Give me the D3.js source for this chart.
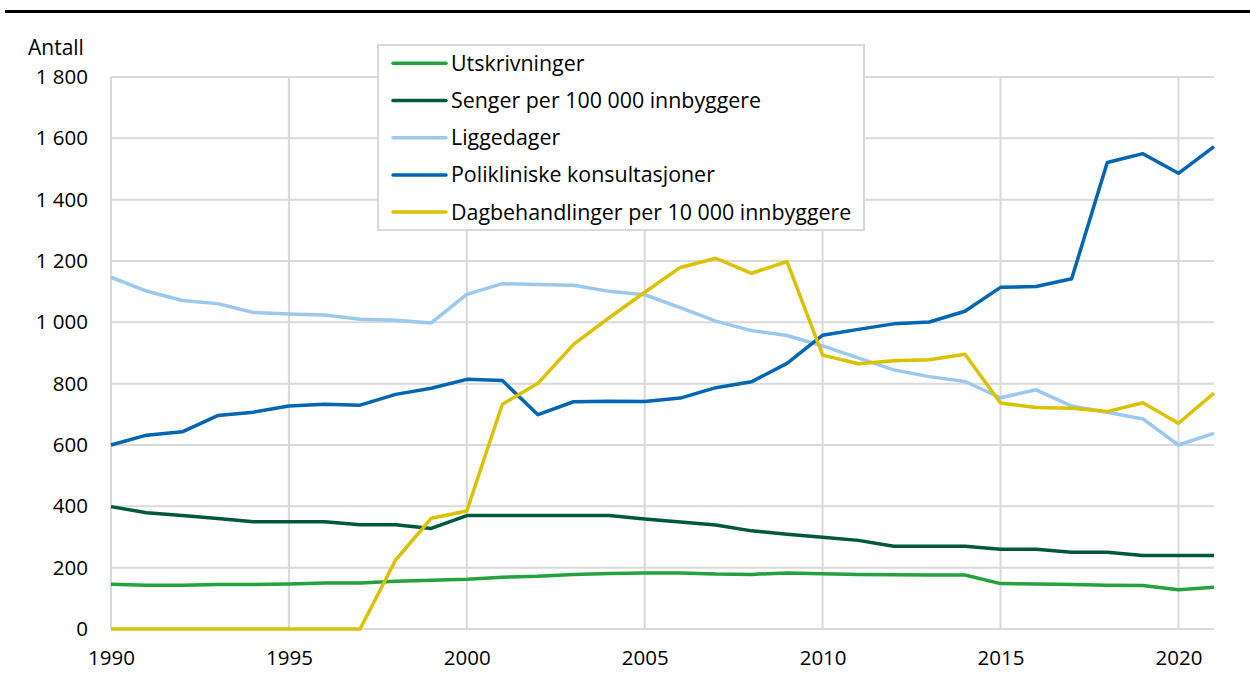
<!DOCTYPE html>
<html>
<head>
<meta charset="utf-8">
<script src="https://cdn.jsdelivr.net/npm/d3@7"></script>
<style>
  body { margin: 0; background: #fff; }
  svg { display: block; font-family: "Open Sans", sans-serif; }
</style>
</head>
<body>
<div id="chart"></div>
<script>
// Sykehusbruk 1990-2021

const years = d3.range(1990, 2022);

const utskrivninger = [146, 143, 143, 145, 145, 147, 150, 150, 156, 159, 162, 169, 172, 178, 181, 183,
    183, 179, 178, 183, 180, 178, 177, 176, 176, 148, 147, 145, 143, 142, 128, 136];
const senger = [399, 379, 370, 360, 350, 350, 350, 340, 340, 328, 370, 370, 370, 370, 370, 359,
    349, 339, 320, 309, 299, 289, 270, 270, 270, 260, 260, 250, 250, 240, 240, 240];
const liggedager = [1147, 1102, 1071, 1061, 1032, 1027, 1024, 1010, 1007, 998, 1091, 1126, 1123, 1121, 1101, 1090,
    1048, 1004, 973, 957, 923, 884, 845, 823, 807, 754, 780, 727, 707, 685, 600, 638];
const polikliniske = [600, 632, 643, 696, 707, 727, 733, 730, 765, 785, 814, 810, 699, 741, 743, 742,
    753, 787, 806, 866, 958, 977, 995, 1001, 1036, 1114, 1117, 1142, 1521, 1550, 1486, 1573];
const dagbehandlinger = [0, 0, 0, 0, 0, 0, 0, 0, 225, 361, 385, 733, 801, 928, 1015, 1098,
    1179, 1209, 1160, 1198, 893, 865, 875, 878, 896, 737, 722, 720, 709, 738, 671, 769];

const seriesNames = ["Utskrivninger", "Senger per 100 000 innbyggere", "Liggedager",
    "Polikliniske konsultasjoner", "Dagbehandlinger per 10 000 innbyggere"];
const seriesValues = [utskrivninger, senger, liggedager, polikliniske, dagbehandlinger];
const colors = ["#23a33e", "#00573f", "#9bc9ee", "#0166b1", "#dac200"];

const yTicks = [0, 200, 400, 600, 800, 1000, 1200, 1400, 1600, 1800];
const xTicks = [1990, 1995, 2000, 2005, 2010, 2015, 2020];

const width = 1250,
    height = 677,
    margin = ({top: 77, right: 36, bottom: 48, left: 111});

let svg = d3.select("#chart")
    .append("svg")
    .attr("width", width)
    .attr("height", height);

// black rule at the top
svg.append("line")
    .attr("x1", 5).attr("x2", width)
    .attr("y1", 11.5).attr("y2", 11.5)
    .attr("stroke", "#000")
    .attr("stroke-width", 3);

let x = d3.scaleLinear()
    .domain([1990, 2021])
    .range([margin.left, width - margin.right]);

let y = d3.scaleLinear()
    .domain([0, 1800])
    .range([height - margin.bottom, margin.top]);

const nb = d3.formatLocale({decimal: ",", thousands: "\u00a0", grouping: [3], currency: ["", " kr"]});
const fmt = nb.format(",");

// grid
svg.append("g")
    .selectAll("line")
    .data(yTicks)
    .join("line")
    .attr("x1", x(1990)).attr("x2", x(2021))
    .attr("y1", d => y(d)).attr("y2", d => y(d))
    .attr("stroke", "#d9d9d9")
    .attr("stroke-width", 2);

svg.append("g")
    .selectAll("line")
    .data(xTicks)
    .join("line")
    .attr("x1", d => x(d)).attr("x2", d => x(d))
    .attr("y1", y(1800)).attr("y2", y(0))
    .attr("stroke", "#d9d9d9")
    .attr("stroke-width", 2);

// axes (labels only)
let yAxis = svg.append("g")
    .attr("transform", `translate(${margin.left - 23},0)`)
    .call(d3.axisLeft(y).tickValues(yTicks).tickFormat(fmt).tickSize(0));
yAxis.select(".domain").remove();
yAxis.selectAll("text")
    .attr("x", 0)
    .style("font-family", "Open Sans")
    .style("font-size", "20.5px")
    .attr("fill", "#000");

let xAxis = svg.append("g")
    .attr("transform", `translate(0,${y(0)})`)
    .call(d3.axisBottom(x).tickValues(xTicks).tickFormat(d3.format("d")).tickSize(0));
xAxis.select(".domain").remove();
xAxis.selectAll("text")
    .attr("y", 21)
    .style("font-family", "Open Sans")
    .style("font-size", "20.5px")
    .attr("fill", "#000");

svg.append("text")
    .attr("x", 28)
    .attr("y", 54.5)
    .style("font-size", "21px")
    .text("Antall");

// lines
let line = d3.line()
    .x((d, i) => x(years[i]))
    .y(d => y(d));

svg.append("g")
    .selectAll("path")
    .data(seriesValues)
    .join("path")
    .attr("d", d => line(d))
    .attr("fill", "none")
    .attr("stroke", (d, i) => colors[i])
    .attr("stroke-width", 3.5)
    .attr("stroke-linejoin", "round");

// legend
let legend = svg.append("g");
legend.append("rect")
    .attr("x", 378).attr("y", 45)
    .attr("width", 486).attr("height", 185)
    .attr("fill", "#fff")
    .attr("stroke", "#d9d9d9")
    .attr("stroke-width", 2);

let item = legend.selectAll(".item")
    .data(seriesNames)
    .join("g")
    .attr("class", "item")
    .attr("transform", (d, i) => `translate(393,${63.3 + i * 37.2})`);

item.append("line")
    .attr("x1", 0).attr("x2", 53)
    .attr("stroke", (d, i) => colors[i])
    .attr("stroke-width", 3.5)
    .attr("stroke-linecap", "round");

item.append("text")
    .attr("x", 58)
    .attr("dy", "0.35em")
    .style("font-size", "21.4px")
    .text(d => d);
</script>
</body>
</html>
